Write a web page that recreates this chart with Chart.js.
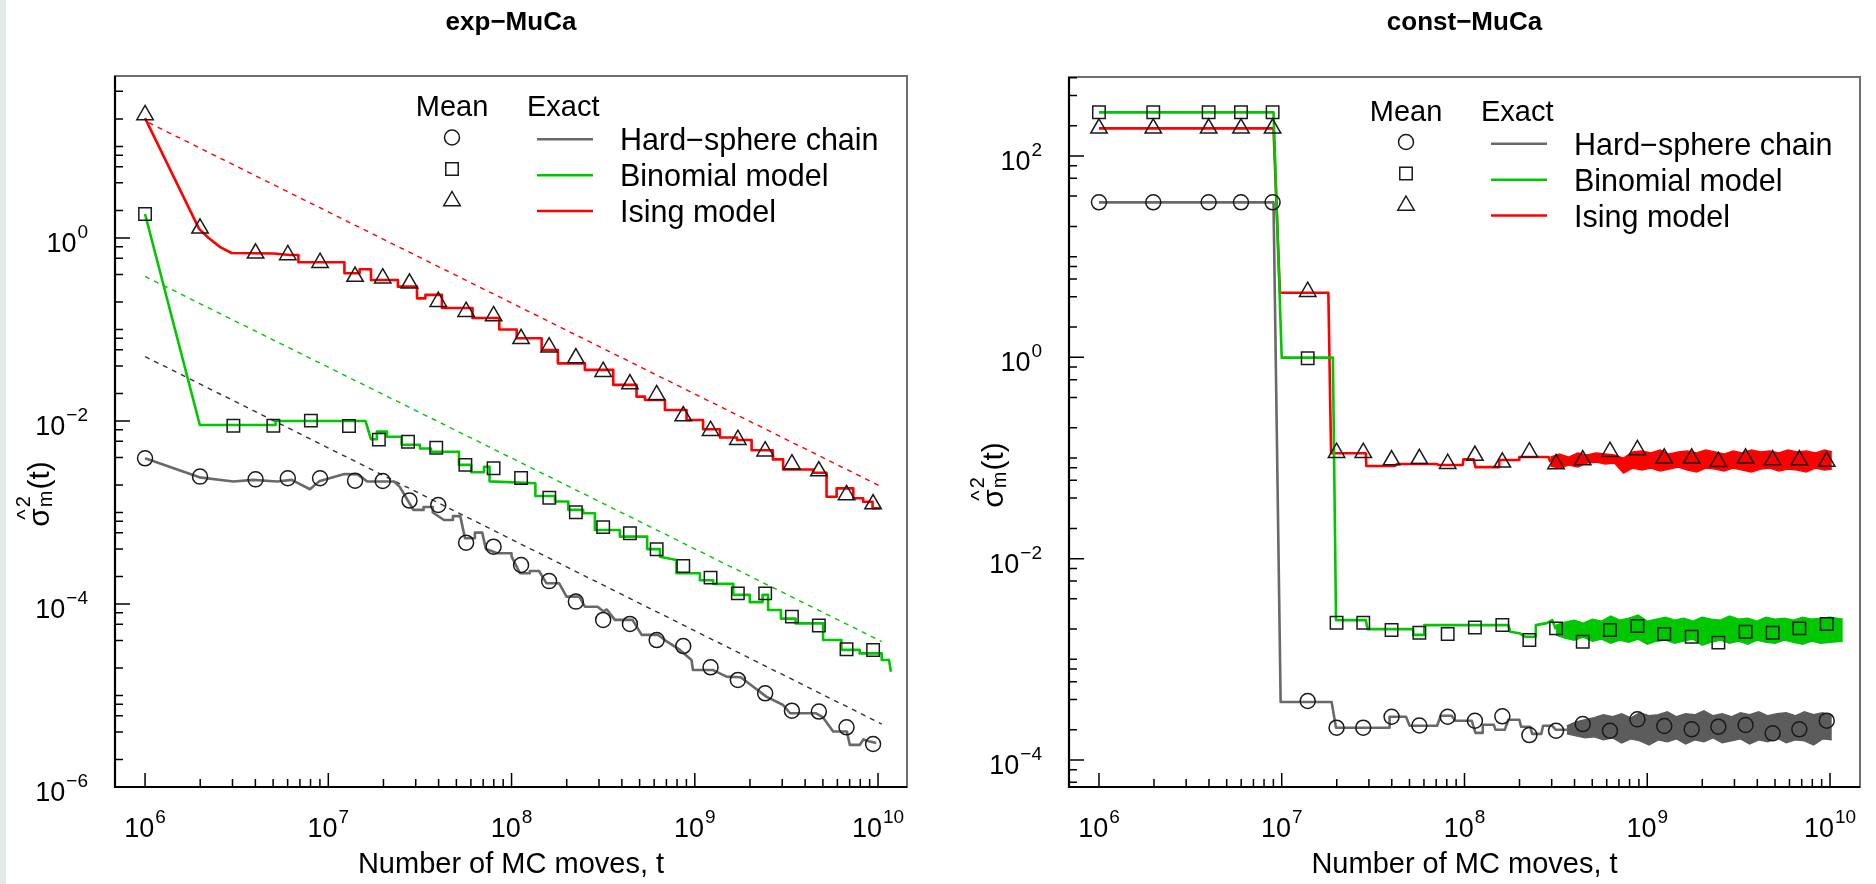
<!DOCTYPE html>
<html>
<head>
<meta charset="utf-8">
<title>exp-MuCa / const-MuCa</title>
<script src="https://cdn.jsdelivr.net/npm/chart.js@4.4.1/dist/chart.umd.min.js"></script>
<style>
  body { margin: 0; background: #fff; }
  #page { position: relative; width: 1876px; height: 884px; overflow: hidden; }
  #edge { position: absolute; left: 0; top: 0; width: 6px; height: 884px; background: #e3e9e9; }
  canvas { position: absolute; top: 0; }
</style>
</head>
<body>
<div id="page">
  <div id="edge"></div>
  <canvas id="expChart" width="938" height="884" style="left:0"></canvas>
  <canvas id="constChart" width="938" height="884" style="left:938px"></canvas>
</div>
<script>
// every time and value below is a log10 exponent
const xTickExps = [6, 7, 8, 9, 10];
const expYTickExps = [0, -2, -4, -6];
const constYTickExps = [2, 0, -2, -4];
const seriesNames = ['Hard−sphere chain', 'Binomial model', 'Ising model'];

// ---- exp-MuCa ----
const expMarkT = [6.0, 6.30, 6.603, 6.779, 6.955, 7.146, 7.297, 7.443, 7.60, 7.752, 7.902, 8.052, 8.205,
    8.351, 8.50, 8.646, 8.792, 8.937, 9.086, 9.235, 9.384, 9.53, 9.677, 9.828, 9.973];
const expSquareT = [6.0, 6.482, 6.70, 6.905, 7.113, 7.276, 7.435, 7.589, 7.748, 7.902, 8.052, 8.206,
    8.351, 8.50, 8.646, 8.792, 8.937, 9.086, 9.235, 9.384, 9.53, 9.677, 9.828, 9.973];
const expHardMean = [-2.408, -2.608, -2.638, -2.626, -2.626, -2.652, -2.656, -2.87, -2.918, -3.33, -3.374,
    -3.574, -3.75, -3.974, -4.174, -4.218, -4.394, -4.46, -4.692, -4.83, -4.976, -5.166, -5.176, -5.348, -5.53];
const expBinMean = [0.262, -2.052, -2.052, -1.996, -2.054, -2.204, -2.226, -2.292, -2.48, -2.517, -2.623,
    -2.839, -2.997, -3.16, -3.228, -3.402, -3.584, -3.712, -3.884, -3.884, -4.138, -4.236, -4.494, -4.502];
const expIsingMean = [1.344, 0.106, -0.168, -0.186, -0.270, -0.422, -0.440, -0.496, -0.696, -0.806, -0.852,
    -1.102, -1.194, -1.312, -1.462, -1.596, -1.716, -1.946, -2.106, -2.204, -2.33, -2.472, -2.548, -2.808, -2.908];

const expHardExact = [[6.0, -2.408], [6.297, -2.616], [6.482, -2.662], [6.59, -2.644], [6.72, -2.662],
    [6.80, -2.644], [6.90, -2.746], [6.95, -2.66], [7.088, -2.58], [7.16, -2.584], [7.213, -2.662],
    [7.359, -2.662], [7.39, -2.72], [7.422, -2.828], [7.464, -2.972], [7.52, -2.972], [7.52, -2.94],
    [7.57, -2.94], [7.57, -3.0], [7.631, -3.082], [7.68, -3.082], [7.68, -3.04], [7.72, -3.04],
    [7.746, -3.282], [7.80, -3.282], [7.80, -3.22], [7.84, -3.22], [7.86, -3.40], [7.923, -3.446],
    [8.0, -3.446], [8.0, -3.48], [8.046, -3.664], [8.10, -3.664], [8.10, -3.64], [8.15, -3.64],
    [8.191, -3.774], [8.26, -3.774], [8.30, -3.92], [8.37, -3.92], [8.40, -4.03], [8.47, -4.03],
    [8.50, -4.08], [8.52, -4.06], [8.564, -4.174], [8.66, -4.174], [8.71, -4.338], [8.80, -4.338],
    [8.84, -4.40], [8.919, -4.502], [8.982, -4.612], [8.99, -4.722], [9.10, -4.722], [9.173, -4.794],
    [9.25, -4.80], [9.319, -4.904], [9.39, -5.012], [9.482, -5.104], [9.52, -5.194], [9.66, -5.194],
    [9.70, -5.24], [9.755, -5.394], [9.83, -5.394], [9.846, -5.54], [9.90, -5.54], [9.92, -5.48],
    [9.95, -5.50], [9.99, -5.52]];
const expBinExact = [[6.0, 0.262], [6.299, -2.044], [6.712, -2.044], [6.712, -2.0], [7.203, -2.0],
    [7.233, -2.2], [7.265, -2.2], [7.265, -2.116], [7.32, -2.116], [7.32, -2.172], [7.40, -2.172],
    [7.40, -2.26], [7.50, -2.26], [7.50, -2.30], [7.56, -2.30], [7.56, -2.336], [7.713, -2.336],
    [7.713, -2.48], [7.78, -2.48], [7.78, -2.56], [7.85, -2.56], [7.85, -2.50], [7.88, -2.50],
    [7.88, -2.66], [8.13, -2.68], [8.13, -2.82], [8.237, -2.82], [8.237, -2.88], [8.31, -2.88],
    [8.31, -2.972], [8.391, -2.972], [8.391, -3.008], [8.455, -3.008], [8.455, -3.192], [8.591, -3.192],
    [8.591, -3.264], [8.74, -3.264], [8.74, -3.40], [8.81, -3.40], [8.81, -3.484], [8.90, -3.52],
    [8.90, -3.664], [9.028, -3.664], [9.028, -3.74], [9.10, -3.74], [9.10, -3.78], [9.21, -3.78],
    [9.21, -3.90], [9.30, -3.90], [9.30, -3.98], [9.37, -3.98], [9.37, -3.90], [9.40, -3.90],
    [9.40, -4.066], [9.47, -4.066], [9.47, -4.16], [9.55, -4.16], [9.55, -4.212], [9.70, -4.212],
    [9.70, -4.394], [9.80, -4.394], [9.80, -4.502], [9.90, -4.502], [9.90, -4.54], [10.02, -4.54],
    [10.02, -4.612], [10.06, -4.612], [10.07, -4.74]];
const expIsingExact = [[6.0, 1.31], [6.295, 0.10], [6.347, 0.0], [6.41, -0.10], [6.472, -0.164],
    [6.70, -0.17], [6.79, -0.186], [6.837, -0.186], [6.837, -0.266], [7.088, -0.266], [7.088, -0.386],
    [7.171, -0.386], [7.171, -0.342], [7.233, -0.342], [7.233, -0.46], [7.38, -0.46], [7.38, -0.532],
    [7.484, -0.532], [7.484, -0.66], [7.53, -0.66], [7.53, -0.622], [7.62, -0.622], [7.62, -0.766],
    [7.787, -0.766], [7.787, -0.874], [7.933, -0.874], [7.933, -1.0], [8.028, -1.0], [8.028, -1.096],
    [8.164, -1.096], [8.164, -1.224], [8.253, -1.224], [8.253, -1.37], [8.40, -1.37], [8.40, -1.442],
    [8.555, -1.442], [8.555, -1.606], [8.682, -1.606], [8.682, -1.734], [8.728, -1.734], [8.728, -1.77],
    [8.837, -1.77], [8.837, -1.88], [8.955, -1.88], [8.955, -1.99], [9.045, -1.99], [9.045, -2.09],
    [9.137, -2.09], [9.137, -2.18], [9.23, -2.18], [9.23, -2.208], [9.31, -2.208], [9.31, -2.32],
    [9.426, -2.32], [9.426, -2.42], [9.482, -2.42], [9.482, -2.53], [9.646, -2.53], [9.646, -2.566],
    [9.719, -2.566], [9.719, -2.828], [9.774, -2.828], [9.774, -2.736], [9.865, -2.736], [9.865, -2.844],
    [9.919, -2.844], [9.919, -2.882], [9.97, -2.882], [9.97, -2.954], [10.01, -2.954]];

// dashed 1/t guides
const expHardRef = [[6.0, -1.296], [10.02, -5.312]];
const expBinRef = [[6.0, -0.42], [10.02, -4.41]];
const expIsingRef = [[6.02, 1.26], [10.02, -2.72]];

// ---- const-MuCa ----
const constMarkT = [6.0, 6.297, 6.60, 6.777, 6.95, 7.142, 7.30, 7.446, 7.601, 7.753, 7.908, 8.057, 8.207,
    8.355, 8.501, 8.647, 8.796, 8.946, 9.093, 9.243, 9.389, 9.538, 9.686, 9.832, 9.982];
const constHardMean = [1.54, 1.54, 1.54, 1.54, 1.54, -3.414, -3.679, -3.679, -3.570, -3.657, -3.570, -3.61,
    -3.566, -3.752, -3.709, -3.643, -3.709, -3.596, -3.662, -3.695, -3.669, -3.652, -3.735, -3.695, -3.609];
const constBinMean = [2.435, 2.435, 2.435, 2.435, 2.435, -0.009, -2.636, -2.636, -2.709, -2.735, -2.748, -2.684,
    -2.659, -2.808, -2.692, -2.825, -2.709, -2.669, -2.748, -2.775, -2.834, -2.725, -2.735, -2.692, -2.649];
const constIsingMean = [2.275, 2.275, 2.275, 2.275, 2.275, 0.652, -0.947, -0.947, -1.02, -1.008, -1.056, -0.975,
    -1.042, -0.942, -1.059, -1.02, -0.937, -0.92, -1.003, -1.003, -1.037, -1.003, -1.02, -1.02, -1.035];

const constHardExact = [[6.0, 1.54], [6.955, 1.54], [6.994, -3.424], [7.273, -3.424], [7.297, -3.679],
    [7.59, -3.679], [7.59, -3.57], [7.68, -3.57], [7.70, -3.66], [7.85, -3.66], [7.87, -3.56], [7.93, -3.56],
    [7.95, -3.61], [8.04, -3.61], [8.06, -3.73], [8.10, -3.73], [8.10, -3.65], [8.16, -3.65], [8.17, -3.70],
    [8.22, -3.70], [8.24, -3.60], [8.30, -3.60], [8.31, -3.67], [8.36, -3.67], [8.37, -3.74], [8.42, -3.74],
    [8.43, -3.66], [8.48, -3.66], [8.50, -3.70], [8.56, -3.70]];
const constBinExact = [[6.0, 2.434], [6.955, 2.434], [7.0, -0.003], [7.28, -0.003], [7.297, -2.61],
    [7.46, -2.61], [7.47, -2.70], [7.72, -2.70], [7.72, -2.757], [7.78, -2.757], [7.78, -2.66], [8.24, -2.66],
    [8.25, -2.725], [8.30, -2.74], [8.33, -2.775], [8.39, -2.775], [8.39, -2.66], [8.45, -2.64], [8.48, -2.61],
    [8.50, -2.70]];
const constIsingExact = [[6.0, 2.275], [6.955, 2.275], [6.99, 0.642], [7.255, 0.642], [7.27, -0.953],
    [7.46, -0.953], [7.463, -1.079], [7.62, -1.079], [7.63, -1.06], [7.85, -1.06], [7.86, -1.07], [7.99, -1.07],
    [7.994, -1.013], [8.05, -1.013], [8.06, -1.09], [8.19, -1.09], [8.19, -1.02], [8.30, -1.02], [8.30, -0.99],
    [8.46, -0.99], [8.47, -1.04]];

// noisy tails of the exact curves: upper and lower edge of the band
const constHardBandT = [8.56, 8.61, 8.66, 8.71, 8.76, 8.81, 8.86, 8.91, 8.96, 9.01, 9.06, 9.11, 9.16, 9.21, 9.26,
    9.31, 9.36, 9.41, 9.46, 9.51, 9.56, 9.61, 9.66, 9.71, 9.76, 9.81, 9.86, 9.91, 9.96, 10.01];
const constHardBandHi = [-3.66, -3.62, -3.60, -3.58, -3.55, -3.57, -3.54, -3.58, -3.53, -3.56, -3.55, -3.52,
    -3.57, -3.54, -3.55, -3.51, -3.56, -3.54, -3.57, -3.53, -3.55, -3.52, -3.56, -3.54, -3.53, -3.56, -3.52,
    -3.55, -3.53, -3.56];
const constHardBandLo = [-3.74, -3.76, -3.78, -3.77, -3.80, -3.78, -3.83, -3.79, -3.81, -3.85, -3.80, -3.82,
    -3.79, -3.84, -3.80, -3.82, -3.78, -3.83, -3.81, -3.79, -3.84, -3.80, -3.82, -3.78, -3.83, -3.80, -3.81,
    -3.85, -3.79, -3.80];
const constBinBandT = [8.50, 8.55, 8.60, 8.65, 8.70, 8.75, 8.80, 8.85, 8.90, 8.95, 9.00, 9.05, 9.10, 9.15, 9.20,
    9.25, 9.30, 9.35, 9.40, 9.45, 9.50, 9.55, 9.60, 9.65, 9.70, 9.75, 9.80, 9.85, 9.90, 9.95, 10.00, 10.07];
const constBinBandHi = [-2.66, -2.63, -2.61, -2.64, -2.60, -2.62, -2.57, -2.61, -2.59, -2.56, -2.62, -2.60,
    -2.58, -2.61, -2.59, -2.62, -2.58, -2.60, -2.61, -2.57, -2.60, -2.59, -2.62, -2.58, -2.60, -2.59, -2.61,
    -2.58, -2.60, -2.59, -2.58, -2.60];
const constBinBandLo = [-2.76, -2.79, -2.81, -2.78, -2.82, -2.80, -2.84, -2.81, -2.83, -2.80, -2.85, -2.82,
    -2.81, -2.84, -2.82, -2.80, -2.86, -2.83, -2.81, -2.84, -2.82, -2.85, -2.81, -2.83, -2.84, -2.81, -2.83,
    -2.85, -2.82, -2.84, -2.83, -2.82];
const constIsingBandT = [8.47, 8.52, 8.57, 8.62, 8.67, 8.72, 8.77, 8.82, 8.87, 8.92, 8.97, 9.02, 9.07, 9.12,
    9.17, 9.22, 9.27, 9.32, 9.37, 9.42, 9.47, 9.52, 9.57, 9.62, 9.67, 9.72, 9.77, 9.82, 9.87, 9.92, 9.97, 10.01];
const constIsingBandHi = [-0.99, -0.96, -0.99, -0.95, -0.97, -0.95, -0.96, -0.97, -1.00, -0.94, -0.93, -0.95,
    -0.92, -0.96, -0.94, -0.93, -0.95, -0.92, -0.94, -0.96, -0.93, -0.95, -0.92, -0.94, -0.93, -0.95, -0.92,
    -0.94, -0.93, -0.95, -0.92, -0.94];
const constIsingBandLo = [-1.08, -1.10, -1.07, -1.09, -1.05, -1.04, -1.06, -1.05, -1.15, -1.10, -1.12, -1.10,
    -1.13, -1.11, -1.09, -1.12, -1.14, -1.10, -1.11, -1.13, -1.10, -1.12, -1.14, -1.11, -1.10, -1.13, -1.11,
    -1.12, -1.14, -1.10, -1.12, -1.11];

const FONT = '"Liberation Sans", Arial, Helvetica, sans-serif';
const GRAY = '#696969';
const GREEN = '#00c800';
const RED = '#ff0000';
const MARK_SIZE = { circle: 7.5, rect: 8.8, triangle: 9.5 };

function toPts(ts, vs) {
    return ts.map((t, i) => ({ x: Math.pow(10, t), y: Math.pow(10, vs[i]) }));
}
function fromPairs(arr) {
    return arr.map((p) => ({ x: Math.pow(10, p[0]), y: Math.pow(10, p[1]) }));
}

function markerSet(ts, vs, style) {
    return {
        data: toPts(ts, vs),
        showLine: false,
        pointStyle: style,
        pointRadius: MARK_SIZE[style],
        pointBorderWidth: 1.5,
        pointBorderColor: '#1a1a1a',
        pointBackgroundColor: 'rgba(0,0,0,0)',
    };
}
function lineSet(pairs, color, width, dash) {
    return {
        data: fromPairs(pairs),
        showLine: true,
        pointRadius: 0,
        borderColor: color,
        borderWidth: width,
        borderDash: dash || [],
        borderJoinStyle: 'round',
        fill: false,
    };
}
// upper edge then lower edge, lower one fills up to the previous dataset
function bandSets(ts, hi, lo, color) {
    const edge = { showLine: true, pointRadius: 0, borderColor: color, borderWidth: 1.3 };
    return [
        Object.assign({ data: toPts(ts, hi), fill: false }, edge),
        Object.assign({ data: toPts(ts, lo), fill: '-1', backgroundColor: color }, edge),
    ];
}

function expLabel(e) {
    return e < 0 ? '−' + (-e) : String(e);
}

// "10" with a raised exponent
function drawPow(ctx, x, y, e, align) {
    const exp = expLabel(e);
    ctx.font = '27px ' + FONT;
    const wb = ctx.measureText('10').width;
    ctx.font = '19px ' + FONT;
    const we = ctx.measureText(exp).width;
    const total = wb + 1 + we;
    const x0 = align === 'center' ? x - total / 2 : x - total;
    ctx.textAlign = 'left';
    ctx.textBaseline = 'alphabetic';
    ctx.font = '27px ' + FONT;
    ctx.fillText('10', x0, y);
    ctx.font = '19px ' + FONT;
    ctx.fillText(exp, x0 + wb + 1, y - 14);
}

function drawMark(ctx, style, x, y) {
    const r = MARK_SIZE[style];
    ctx.beginPath();
    if (style === 'circle') {
        ctx.arc(x, y, r, 0, Math.PI * 2);
    } else if (style === 'rect') {
        const s = r * Math.SQRT1_2;
        ctx.rect(x - s, y - s, 2 * s, 2 * s);
    } else {
        ctx.moveTo(x, y - r);
        ctx.lineTo(x + r * 0.866, y + r / 2);
        ctx.lineTo(x - r * 0.866, y + r / 2);
        ctx.closePath();
    }
    ctx.stroke();
}

// rotated sigma-hat^2_m(t)
function drawSigmaTitle(ctx, bx, cy) {
    ctx.save();
    ctx.translate(bx, cy);
    ctx.rotate(-Math.PI / 2);
    ctx.fillStyle = '#000';
    ctx.textBaseline = 'alphabetic';
    ctx.textAlign = 'left';
    const big = '30px ' + FONT;
    const small = '20px ' + FONT;
    ctx.font = big;
    const wSig = ctx.measureText('σ').width;
    const wT = ctx.measureText('(t)').width;
    ctx.font = small;
    const wS = Math.max(ctx.measureText('2').width, ctx.measureText('m').width);
    let x = -(wSig + 1 + wS + 1 + wT) / 2;
    ctx.font = big;
    ctx.fillText('σ', x, 0);
    ctx.font = '22px ' + FONT;
    ctx.textAlign = 'center';
    ctx.fillText('^', x + wSig / 2 + 3, -17);
    ctx.textAlign = 'left';
    x += wSig + 1;
    ctx.font = small;
    ctx.fillText('2', x, -19);
    ctx.fillText('m', x, 3);
    x += wS + 1;
    ctx.font = big;
    ctx.fillText('(t)', x, 0);
    ctx.restore();
}

// box, inward ticks, labels, titles and the two-column legend
const rFrame = {
    id: 'rFrame',
    afterDraw(chart, args, o) {
        const ctx = chart.ctx;
        const a = chart.chartArea;
        const xs = chart.scales.x;
        const ys = chart.scales.y;
        ctx.save();

        ctx.strokeStyle = '#6e6e6e';
        ctx.lineWidth = 2;
        ctx.strokeRect(a.left, a.top, a.right - a.left, a.bottom - a.top);
        ctx.strokeStyle = '#000';
        ctx.lineWidth = 2.2;
        ctx.beginPath();
        ctx.moveTo(a.left, a.top);
        ctx.lineTo(a.left, a.bottom);
        ctx.lineTo(a.right, a.bottom);
        ctx.stroke();

        ctx.lineWidth = 1.5;
        ctx.beginPath();
        for (let d = 6; d <= 10; d++) {
            for (let m = 1; m <= 9; m++) {
                if (d === 10 && m > 1) break;
                const px = xs.getPixelForValue(m * Math.pow(10, d));
                ctx.moveTo(px, a.bottom);
                ctx.lineTo(px, a.bottom - (m === 1 ? 14 : 8));
            }
        }
        for (let d = -7; d <= 3; d++) {
            for (const m of [1, 2, 4, 6, 8]) {
                const v = m * Math.pow(10, d);
                if (v < ys.min * 0.999 || v > ys.max * 1.001) continue;
                const py = ys.getPixelForValue(v);
                ctx.moveTo(a.left, py);
                ctx.lineTo(a.left + (m === 1 && d % 2 === 0 ? 15 : 8), py);
            }
        }
        ctx.stroke();

        ctx.fillStyle = '#000';
        xTickExps.forEach((e) => {
            drawPow(ctx, xs.getPixelForValue(Math.pow(10, e)), a.bottom + 50, e, 'center');
        });
        o.yTicks.forEach((e) => {
            drawPow(ctx, a.left - 27, ys.getPixelForValue(Math.pow(10, e)) + 14, e, 'right');
        });

        const cx = (a.left + a.right) / 2;
        ctx.textAlign = 'center';
        ctx.font = 'bold 26px ' + FONT;
        ctx.fillText(o.title, cx, 30);
        ctx.font = '29px ' + FONT;
        ctx.fillText('Number of MC moves, t', cx, 873);
        drawSigmaTitle(ctx, a.left - 66, o.yTitleY);

        // legend
        const lx = a.left + 337;
        const ly = a.top + o.legendDy;
        ctx.font = '29px ' + FONT;
        ctx.textAlign = 'center';
        ctx.fillText('Mean', lx, ly + 40);
        ctx.textAlign = 'left';
        ctx.fillText('Exact', a.left + 412, ly + 40);
        const marks = ['circle', 'rect', 'triangle'];
        const markY = [61.5, 93, 125];
        const lineY = [63.3, 99.3, 135];
        const colors = [GRAY, GREEN, RED];
        ctx.strokeStyle = '#1a1a1a';
        ctx.lineWidth = 1.5;
        marks.forEach((m, i) => drawMark(ctx, m, lx, ly + markY[i]));
        ctx.font = '30.5px ' + FONT;
        seriesNames.forEach((name, i) => {
            ctx.strokeStyle = colors[i];
            ctx.lineWidth = 2.6;
            ctx.beginPath();
            ctx.moveTo(a.left + 422, ly + lineY[i]);
            ctx.lineTo(a.left + 478, ly + lineY[i]);
            ctx.stroke();
            ctx.fillText(name, a.left + 505, ly + lineY[i] + 11);
        });
        ctx.restore();
    },
};

function makeChart(id, datasets, padding, xRange, yRange, frame) {
    return new Chart(document.getElementById(id), {
        type: 'scatter',
        data: { datasets: datasets },
        options: {
            responsive: false,
            animation: false,
            events: [],
            layout: { padding: padding },
            scales: {
                x: { type: 'logarithmic', display: false, min: Math.pow(10, xRange[0]), max: Math.pow(10, xRange[1]) },
                y: { type: 'logarithmic', display: false, min: Math.pow(10, yRange[0]), max: Math.pow(10, yRange[1]) },
            },
            plugins: {
                legend: { display: false },
                tooltip: { enabled: false },
                rFrame: frame,
            },
        },
        plugins: [rFrame],
    });
}

makeChart('expChart', [
    markerSet(expMarkT, expHardMean, 'circle'),
    markerSet(expSquareT, expBinMean, 'rect'),
    markerSet(expMarkT, expIsingMean, 'triangle'),
    lineSet(expHardExact, GRAY, 2.6),
    lineSet(expBinExact, GREEN, 2.6),
    lineSet(expIsingExact, RED, 2.6),
    lineSet(expHardRef, '#333', 1.4, [5, 5]),
    lineSet(expBinRef, GREEN, 1.4, [5, 5]),
    lineSet(expIsingRef, RED, 1.4, [5, 5]),
], { left: 115, right: 31, top: 76, bottom: 97 }, [5.836, 10.158], [-6.0, 1.77],
   { title: 'exp−MuCa', yTicks: expYTickExps, legendDy: 0, yTitleY: 494 });

makeChart('constChart', [
    markerSet(constMarkT, constHardMean, 'circle'),
    markerSet(constMarkT, constBinMean, 'rect'),
    markerSet(constMarkT, constIsingMean, 'triangle'),
    lineSet(constHardExact, GRAY, 2.6),
    lineSet(constBinExact, GREEN, 2.6),
    lineSet(constIsingExact, RED, 2.6),
    ...bandSets(constHardBandT, constHardBandHi, constHardBandLo, '#5c5c5c'),
    ...bandSets(constBinBandT, constBinBandHi, constBinBandLo, GREEN),
    ...bandSets(constIsingBandT, constIsingBandHi, constIsingBandLo, RED),
], { left: 131, right: 16, top: 77, bottom: 97 }, [5.836, 10.164], [-4.268, 2.785],
   { title: 'const−MuCa', yTicks: constYTickExps, legendDy: 3.5, yTitleY: 475 });
</script>
</body>
</html>
